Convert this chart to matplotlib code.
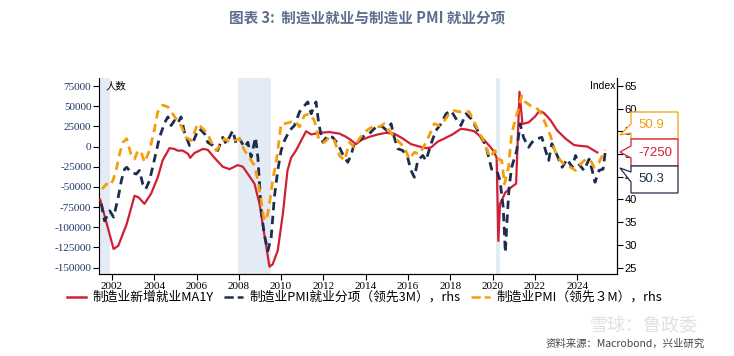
import numpy as np
import matplotlib
matplotlib.use('Agg')
from matplotlib import pyplot as plt
from matplotlib.patches import Polygon

plt.rcParams['font.family'] = ['Noto Sans CJK SC', 'DejaVu Sans']

# 制造业新增就业MA1Y (左轴)
red_x = [2001.45, 2002.08, 2002.3, 2002.7, 2003.07, 2003.26, 2003.54, 2003.86, 2004.17, 2004.4,
         2004.72, 2004.96, 2005.1, 2005.35, 2005.6, 2005.7, 2005.9, 2006.3, 2006.53, 2006.85,
         2007.24, 2007.56, 2007.95, 2008.19, 2008.43, 2008.74, 2008.98, 2009.2, 2009.45, 2009.6,
         2009.84, 2010.08, 2010.3, 2010.47, 2010.7, 2011.18, 2011.42, 2011.8, 2012.28, 2012.76,
         2013.07, 2013.3, 2013.54, 2013.78, 2014.17, 2014.57, 2014.96, 2015.35, 2015.75, 2016.14,
         2016.54, 2016.85, 2017.09, 2017.4, 2017.72, 2018.1, 2018.5, 2018.8, 2019.13, 2019.53,
         2019.84, 2020.03, 2020.19, 2020.27, 2020.35, 2020.6, 2020.9, 2021.11, 2021.27, 2021.41,
         2021.7, 2022.0, 2022.2, 2022.41, 2022.73, 2023.05, 2023.44, 2023.84, 2024.08, 2024.48,
         2024.8, 2024.95]
red_y = [-66000, -127000, -123000, -96000, -61000, -63000, -71000, -58000, -38000, -17000,
         -2000, -3000, -5000, -5000, -9000, -14000, -8000, -3000, -4000, -14000,
         -25000, -28000, -23000, -25000, -34000, -46000, -71000, -108000, -149000, -146000,
         -129000, -84000, -30000, -14000, -5000, 19000, 15000, 17000, 18000, 16000,
         12000, 8000, 3000, 8000, 12000, 15000, 17000, 16000, 10000, 3000,
         0, -2000, -1000, 6000, 10000, 15000, 22000, 21000, 19000, 10000,
         1000, -5000, -14000, -117000, -71000, -57000, -50000, -46000, 68000, 28000,
         30000, 37000, 44000, 42000, 33000, 20000, 10000, 2000, 1000, 0,
         -5000, -7250]

# 制造业PMI就业分项（领先3M），rhs
navy_x = [2001.5, 2001.65, 2001.9, 2002.08, 2002.3, 2002.45, 2002.6, 2002.7, 2002.9, 2003.15,
          2003.3, 2003.46, 2003.6, 2003.78, 2004.0, 2004.25, 2004.5, 2004.65, 2004.8, 2004.96,
          2005.1, 2005.27, 2005.43, 2005.67, 2005.83, 2006.0, 2006.14, 2006.38, 2006.53, 2006.77,
          2007.0, 2007.24, 2007.4, 2007.64, 2007.72, 2007.87, 2008.03, 2008.27, 2008.43, 2008.58,
          2008.79, 2008.9, 2009.06, 2009.2, 2009.37, 2009.53, 2009.68, 2009.84, 2010.0, 2010.16,
          2010.4, 2010.63, 2010.87, 2011.05, 2011.26, 2011.42, 2011.65, 2011.78, 2011.97, 2012.2,
          2012.44, 2012.68, 2012.91, 2013.15, 2013.3, 2013.46, 2013.7, 2013.94, 2014.17, 2014.4,
          2014.57, 2014.8, 2015.0, 2015.2, 2015.35, 2015.51, 2015.75, 2015.98, 2016.14, 2016.3,
          2016.46, 2016.7, 2016.85, 2017.09, 2017.32, 2017.56, 2017.8, 2018.03, 2018.27, 2018.5,
          2018.74, 2018.98, 2019.2, 2019.45, 2019.68, 2019.95, 2020.19, 2020.35, 2020.5, 2020.6,
          2020.67, 2020.78, 2020.9, 2021.14, 2021.3, 2021.46, 2021.7, 2021.86, 2022.1, 2022.33,
          2022.5, 2022.65, 2022.8, 2023.05, 2023.29, 2023.52, 2023.76, 2023.92, 2024.08, 2024.32,
          2024.56, 2024.71, 2024.84, 2025.03, 2025.22, 2025.32]
navy_y = [39.0, 35.3, 37.5, 36.1, 40.5, 44.2, 46.7, 47.1, 46.0, 45.6,
          46.4, 43.4, 42.3, 44.2, 48.6, 53.7, 57.0, 58.2, 56.3, 57.4,
          56.7, 58.2, 54.8, 51.9, 52.6, 54.5, 55.6, 54.5, 52.6, 51.9,
          50.8, 53.7, 52.3, 54.5, 55.2, 52.3, 53.4, 51.5, 52.6, 49.3,
          53.7, 49.3, 37.5, 32.4, 28.7, 31.6, 40.5, 46.4, 50.8, 53.0,
          55.2, 56.3, 59.3, 60.4, 61.5, 58.9, 61.5, 56.7, 52.6, 54.1,
          53.7, 52.3, 50.0, 48.2, 49.7, 52.3, 53.0, 54.1, 54.5, 55.6,
          56.3, 56.0, 55.2, 56.7, 53.7, 51.2, 50.8, 49.3, 46.4, 44.9,
          48.6, 49.7, 48.6, 52.3, 55.2, 56.7, 58.9, 59.6, 57.8, 56.3,
          58.9, 57.8, 56.0, 53.7, 51.9, 46.7, 46.4, 44.2, 38.3, 28.3,
          34.6, 42.7, 47.1, 50.8, 56.7, 53.7, 51.5, 52.6, 53.4, 53.7,
          50.8, 48.6, 52.3, 49.7, 47.1, 48.9, 47.1, 49.7, 47.8, 46.4,
          48.9, 46.4, 43.8, 46.4, 46.7, 50.3]

# 制造业PMI（领先3M），rhs
orange_x = [2001.54, 2001.73, 2001.9, 2002.05, 2002.2, 2002.36, 2002.52, 2002.7, 2002.9, 2003.07,
            2003.23, 2003.39, 2003.54, 2003.78, 2004.0, 2004.17, 2004.4, 2004.65, 2004.8, 2005.04,
            2005.27, 2005.5, 2005.75, 2005.9, 2006.06, 2006.3, 2006.53, 2006.7, 2006.93, 2007.17,
            2007.32, 2007.56, 2007.8, 2008.03, 2008.27, 2008.43, 2008.58, 2008.74, 2008.9, 2009.06,
            2009.17, 2009.3, 2009.45, 2009.6, 2009.8, 2010.0, 2010.16, 2010.4, 2010.63, 2010.87,
            2011.1, 2011.34, 2011.57, 2011.8, 2012.05, 2012.28, 2012.52, 2012.76, 2013.0, 2013.23,
            2013.46, 2013.7, 2013.94, 2014.17, 2014.4, 2014.65, 2014.88, 2015.12, 2015.35, 2015.59,
            2015.83, 2016.06, 2016.3, 2016.54, 2016.77, 2017.0, 2017.24, 2017.48, 2017.72, 2017.95,
            2018.19, 2018.43, 2018.66, 2018.9, 2019.13, 2019.37, 2019.6, 2019.87, 2020.11, 2020.27,
            2020.43, 2020.56, 2020.75, 2020.9, 2021.06, 2021.22, 2021.38, 2021.54, 2021.78, 2022.02,
            2022.25, 2022.5, 2022.73, 2022.97, 2023.2, 2023.44, 2023.68, 2023.92, 2024.16, 2024.4,
            2024.63, 2024.8, 2025.03, 2025.22, 2025.32]
orange_y = [42.3, 43.4, 43.0, 44.2, 46.4, 50.0, 52.6, 53.4, 50.0, 48.9,
            50.8, 50.4, 48.2, 50.8, 55.2, 59.3, 60.8, 60.4, 59.3, 57.8,
            56.3, 53.7, 53.0, 54.8, 56.7, 55.6, 54.5, 52.6, 50.8, 52.3,
            53.4, 52.6, 53.0, 53.4, 50.8, 49.7, 48.6, 47.5, 44.2, 39.7,
            36.1, 35.3, 39.0, 44.2, 49.3, 56.7, 56.7, 57.0, 57.4, 56.0,
            58.5, 58.9, 57.4, 53.0, 52.6, 53.7, 53.0, 49.7, 48.6, 52.6,
            51.5, 53.4, 54.8, 55.6, 56.3, 56.0, 56.7, 55.2, 53.7, 52.6,
            51.5, 48.9, 50.4, 50.0, 51.9, 54.1, 56.7, 56.3, 57.4, 58.9,
            59.6, 59.3, 59.6, 59.3, 57.0, 54.8, 52.6, 49.3, 50.8, 48.9,
            48.6, 43.4, 47.1, 54.5, 57.4, 60.0, 62.9, 61.5, 60.7, 60.4,
            59.3, 56.7, 54.1, 50.4, 48.6, 47.5, 47.1, 46.4, 47.8, 48.9,
            48.6, 47.1, 48.2, 50.0, 50.9]

# 衰退区间
recessions = [(2001.2, 2001.9), (2007.95, 2009.5), (2020.15, 2020.33)]

RED = '#D11F34'
NAVY = '#1E2D4F'
ORANGE = '#F59E0B'

fig = plt.figure(figsize=(7.34, 3.56), dpi=100)
ax = fig.add_axes([99 / 734, 1 - 274 / 356, (617 - 99) / 734, (274 - 78) / 356])
ax2 = ax.twinx()

for a, b in recessions:
    ax.axvspan(a, b, color='#E3EBF5', lw=0, zorder=0)

ax.plot(red_x, red_y, color=RED, lw=1.6, zorder=3)
ax2.plot(navy_x, navy_y, color=NAVY, lw=2.0, dashes=(3, 2))
ax2.plot(orange_x, orange_y, color=ORANGE, lw=2.0, dashes=(3, 2))

ylo, yhi = -158000, 85000
ax.set_ylim(ylo, yhi)
ax2.set_ylim(51.667 + ylo / 5625, 51.667 + yhi / 5625)
ax.set_xlim(2001.39, 2025.88)

ax.set_yticks(np.arange(-150000, 75001, 25000))
ax2.set_yticks(np.arange(25, 66, 5))
ax.set_xticks(np.arange(2002, 2025, 2))

tick_font = {'family': 'Liberation Serif', 'size': 8}
ax.set_yticklabels([str(v) for v in np.arange(-150000, 75001, 25000)], fontdict=tick_font, color='#1F3864')
ax2.set_yticklabels([str(v) for v in np.arange(25, 66, 5)], fontdict={'family': 'Liberation Sans', 'size': 8})
ax.set_xticklabels([str(v) for v in np.arange(2002, 2025, 2)], fontdict=tick_font)

for a in (ax, ax2):
    a.spines['top'].set_visible(False)
    for s in a.spines.values():
        s.set_linewidth(0.8)
    a.tick_params(length=4, width=0.8, pad=1.5)
ax2.spines['left'].set_visible(False)

ax.text(0.012, 0.985, '人数', transform=ax.transAxes, fontsize=7.5, va='top', ha='left')
ax.text(0.998, 0.985, 'Index', transform=ax.transAxes, fontsize=7.5, va='top', ha='right',
        family='Liberation Sans')

# 右侧数值标注 (白底框 + 指向轴的小尖角)
W, H = 734, 356
boxes = [('50.9', ORANGE, 112, 139, (124, 133), 135),
         ('-7250', RED, 139, 166, (146, 158), 152),
         ('50.3', NAVY, 166, 193, (172, 182), 168)]
for txt, col, top, bot, (n0, n1), tip_y in boxes:
    x0, x1 = 631, 678
    pts = [(x0, top), (x1, top), (x1, bot), (x0, bot), (x0, n1), (620, tip_y), (x0, n0)]
    pts = [(px / W, 1 - py / H) for px, py in pts]
    fig.patches.append(Polygon(pts, closed=True, transform=fig.transFigure,
                               facecolor='white', edgecolor=col, lw=0.9))
    fig.text((x0 + 7) / W, 1 - (top + bot) / 2 / H, txt, color=col, fontsize=9.5, va='center',
             ha='left', family='Liberation Sans')

fig.text(0.5, 0.952, '图表 3:  制造业就业与制造业 PMI 就业分项', ha='center', va='center',
         fontsize=10.5, fontweight='bold', color='#5E6E8E')

# 图例
items = [('制造业新增就业MA1Y', RED, '-'), ('制造业PMI就业分项（领先3M），rhs', NAVY, '--'),
         ('制造业PMI（领先３M），rhs', ORANGE, '--')]
handles = [plt.Line2D([], [], color=c, lw=1.8, ls=ls) for _, c, ls in items]
fig.legend(handles, [t for t, _, _ in items], loc='upper left', bbox_to_anchor=(67 / W, 1 - 291 / H),
           ncol=3, frameon=False, fontsize=9.2, handlelength=1.5, handletextpad=0.5, columnspacing=0.8,
           borderaxespad=0, borderpad=0)

fig.text(0.96, 1 - 344 / H, '资料来源：Macrobond，兴业研究', ha='right', va='center', fontsize=7.5,
         color='#444444')
fig.text(0.95, 1 - 326 / H, '雪球：鲁政委', ha='right', va='center', fontsize=13,
         color='#BBBBBB', alpha=0.45)

fig.savefig('out.png', dpi=100)
